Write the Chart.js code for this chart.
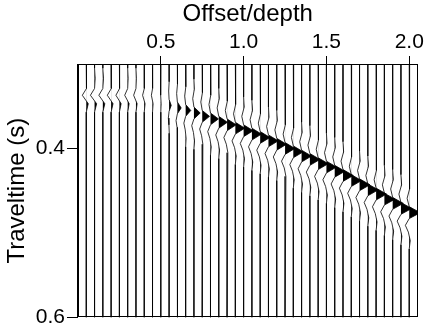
<!DOCTYPE html>
<html>
<head>
<meta charset="utf-8">
<script src="https://cdn.jsdelivr.net/npm/chart.js@4.4.1/dist/chart.umd.min.js"></script>
<style>
  body { margin: 0; background: #fff; }
</style>
</head>
<body>
<canvas id="chart" width="425" height="332"></canvas>
<script>
// trace positions (offset/depth)
const offsets = [0.05, 0.10, 0.15, 0.20, 0.25, 0.30, 0.35, 0.40, 0.45, 0.50,
  0.55, 0.60, 0.65, 0.70, 0.75, 0.80, 0.85, 0.90, 0.95, 1.00,
  1.05, 1.10, 1.15, 1.20, 1.25, 1.30, 1.35, 1.40, 1.45, 1.50,
  1.55, 1.60, 1.65, 1.70, 1.75, 1.80, 1.85, 1.90, 1.95, 2.00]

// reflected event: pick time (s) and peak amplitude per trace
const mainTimes = [null, null, null, null, null, null, null, null, null, null,
  0.349, 0.352, 0.355, 0.358, 0.362, 0.365, 0.369, 0.372, 0.376, 0.379,
  0.383, 0.387, 0.391, 0.395, 0.400, 0.404, 0.409, 0.413, 0.418, 0.422,
  0.427, 0.432, 0.438, 0.443, 0.449, 0.454, 0.460, 0.465, 0.471, 0.476]
const mainAmps = [0, 0, 0, 0, 0, 0, 0, 0, 0, 0,
  0.013, 0.023, 0.031, 0.038, 0.044, 0.048, 0.052, 0.055, 0.057, 0.058,
  0.058, 0.059, 0.059, 0.059, 0.060, 0.060, 0.060, 0.061, 0.061, 0.061,
  0.062, 0.062, 0.062, 0.063, 0.063, 0.063, 0.064, 0.064, 0.065, 0.067]

// early event on the near traces
const directTimes = [0.337, 0.337, 0.337, 0.337, 0.337, 0.337, 0.337, 0.337, 0.337, 0.337]
const directAmps = [0.024, 0.025, 0.024, 0.023, 0.021, 0.018, 0.014, 0.010, 0.007, 0.004]

// wavelet shapes (lag in s, relative amplitude)
const mainLag = [-0.040, -0.028, -0.017, -0.007, 0, 0.007, 0.015, 0.023, 0.033, 0.043]
const mainShape = [0, 0.06, -0.19, 0, 1, 0, -0.35, -0.08, 0.09, 0]
const directLag = [-0.032, -0.020, -0.008, 0, 0.010, 0.020]
const directShape = [0, 0.15, 0, -1, 0.5, 0]

const xTicks = [0.5, 1.0, 1.5, 2.0]
const yTicks = [0.4, 0.6]
const tMin = 0.3
const tMax = 0.6

Chart.defaults.font.family = "'Liberation Sans', Arial, sans-serif"
Chart.defaults.color = "#000"

function tracePoints(i) {
  const base = offsets[i]
  const pts = [{x: base, y: tMin}]
  if (directAmps[i]) {
    directLag.forEach((lag, k) => pts.push({x: base + directAmps[i] * directShape[k], y: directTimes[i] + lag}))
  }
  if (mainAmps[i]) {
    mainLag.forEach((lag, k) => pts.push({x: base + mainAmps[i] * mainShape[k], y: mainTimes[i] + lag}))
  }
  pts.push({x: base, y: tMax})
  return pts
}

// keep only the part right of the baseline, for the black fill
function positivePart(pts, base) {
  const out = []
  for (let k = 0; k < pts.length; k++) {
    const p = pts[k]
    if (k > 0) {
      const q = pts[k - 1]
      const a = q.x - base, b = p.x - base
      if ((a > 0 && b < 0) || (a < 0 && b > 0)) {
        const f = a / (a - b)
        out.push({x: base, y: q.y + f * (p.y - q.y)})
      }
    }
    out.push({x: Math.max(p.x, base), y: p.y})
  }
  return out
}

const datasets = []
offsets.forEach((off, i) => {
  const pts = tracePoints(i)
  datasets.push({
    data: positivePart(pts, off),
    borderWidth: 0,
    borderColor: "rgba(0,0,0,0)",
    backgroundColor: "#000",
    fill: "shape",
    pointRadius: 0,
    tension: 0,
  })
  datasets.push({
    data: pts,
    borderWidth: 0.8,
    borderColor: "#000",
    fill: false,
    pointRadius: 0,
    tension: 0,
  })
})

const boxPlugin = {
  id: "box",
  afterDraw(chart) {
    const {ctx, chartArea: a} = chart
    ctx.save()
    ctx.strokeStyle = "#000"
    ctx.lineWidth = 1
    ctx.strokeRect(Math.round(a.left) + 0.5, Math.round(a.top) + 0.5,
      Math.round(a.right - a.left) - 1, Math.round(a.bottom - a.top) - 1)
    ctx.restore()
  }
}

new Chart(document.getElementById("chart"), {
  type: "line",
  data: {datasets: datasets},
  options: {
    responsive: false,
    animation: false,
    layout: {padding: {top: 0, left: 3, right: 7, bottom: 14}},
    plugins: {
      legend: {display: false},
      tooltip: {enabled: false},
    },
    scales: {
      x: {
        type: "linear",
        position: "top",
        min: 0,
        max: 2.05,
        afterBuildTicks: s => { s.ticks = xTicks.map(v => ({value: v})) },
        ticks: {
          font: {size: 21},
          padding: 1,
          maxRotation: 0,
          autoSkip: false,
          callback: v => v.toFixed(1),
        },
        grid: {drawOnChartArea: false, tickLength: 8, color: "#000"},
        border: {color: "#000"},
        title: {display: true, text: "Offset/depth", font: {size: 24}, padding: {top: 0, bottom: 0}},
      },
      y: {
        type: "linear",
        reverse: true,
        min: tMin,
        max: tMax,
        afterBuildTicks: s => { s.ticks = yTicks.map(v => ({value: v})) },
        ticks: {
          font: {size: 21},
          padding: 2,
          autoSkip: false,
          callback: v => v.toFixed(1),
        },
        grid: {drawOnChartArea: false, tickLength: 11, color: "#000"},
        border: {color: "#000"},
        title: {display: true, text: "Traveltime (s)", font: {size: 24}, padding: {top: 0, bottom: 2}},
      }
    }
  },
  plugins: [boxPlugin]
})
</script>
</body>
</html>
